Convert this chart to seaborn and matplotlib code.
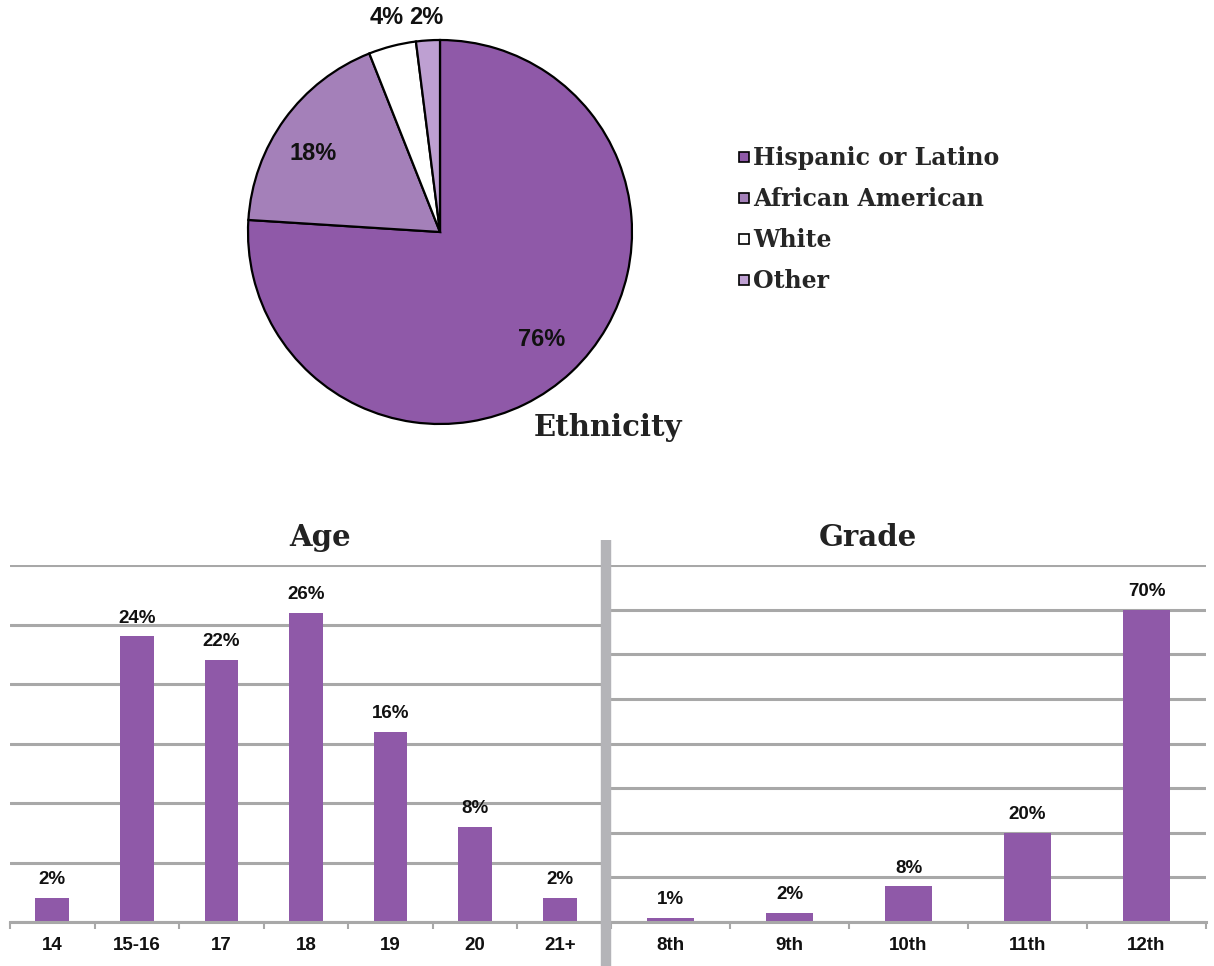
import matplotlib
matplotlib.use("Agg")
import matplotlib.pyplot as plt
import seaborn as sns
import numpy as np
import pandas as pd
from matplotlib.lines import Line2D

# ---- data ----
eth_labels = ["Hispanic or Latino", "African American", "White", "Other"]
eth_values = [76, 18, 4, 2]
eth_colors = ["#8F59A8", "#A480B9", "#FFFFFF", "#BEA0D2"]

age_cats = ["14", "15-16", "17", "18", "19", "20", "21+"]
age_vals = [2, 24, 22, 26, 16, 8, 2]

grade_cats = ["8th", "9th", "10th", "11th", "12th"]
grade_vals = [1, 2, 8, 20, 70]

BAR_COLOR = "#8F59A8"
GRID_COLOR = "#A8A8A8"
SLAB = "DejaVu Serif"
SANS = "Liberation Sans"

sns.set_theme(style="white")
plt.rcParams["font.family"] = ["DejaVu Sans"]

W, H = 1214, 966
fig = plt.figure(figsize=(W / 100, H / 100), dpi=100)
fig.patch.set_facecolor("white")

def fx(px):
    return px / W

def fy(py):
    return 1 - py / H

# ---- pie ----
cx, cy, r = 440, 232, 192
lim = 1.2
size = 2 * lim * r
axp = fig.add_axes([fx(cx - size / 2), fy(cy + size / 2), size / W, size / H])
wedges, texts, autotexts = axp.pie(
    eth_values, colors=eth_colors, startangle=90, counterclock=False,
    autopct=lambda p: f"{p:.0f}%", pctdistance=0.77,
    wedgeprops=dict(edgecolor="black", linewidth=1.6),
    textprops=dict(fontsize=17, fontweight="bold", family=SANS, color="#111111"),
)
axp.set_xlim(-lim, lim)
axp.set_ylim(-lim, lim)
axp.set_aspect("equal")
axp.axis("off")
for w, t, v in zip(wedges, autotexts, eth_values):
    ang = np.deg2rad((w.theta1 + w.theta2) / 2)
    if v < 10:
        t.set_position((1.12 * np.cos(ang), 1.118))
    elif v < 50:
        t.set_position((0.82 * np.cos(ang), 0.70 * np.sin(ang)))
for t in autotexts:
    t.set_clip_on(False)

# legend
handles = [Line2D([0], [0], marker="s", linestyle="none", markersize=7,
                  markerfacecolor=c, markeredgecolor="black", markeredgewidth=1.2)
           for c in eth_colors]
leg = fig.legend(handles, eth_labels, loc="upper left",
                 bbox_to_anchor=(fx(738), fy(146)), frameon=False,
                 prop=dict(family=SLAB, weight="bold", size=17),
                 handlelength=0.55, handletextpad=0.1, labelspacing=0.72,
                 borderaxespad=0, borderpad=0)

fig.text(fx(608), fy(428), "Ethnicity", ha="center", va="center",
         family=SLAB, fontweight="bold", fontsize=21, color="#222222")

# ---- bar charts ----
def bar_panel(left, right, cats, vals, ymax, step, title, title_x):
    ax = fig.add_axes([fx(left), fy(922), (right - left) / W, (922 - 565) / H])
    df = pd.DataFrame({"cat": cats, "val": vals})
    sns.barplot(data=df, x="cat", y="val", color=BAR_COLOR, saturation=1,
                width=0.4, ax=ax, edgecolor="none")
    ax.set_ylim(0, ymax)
    ax.set_xlim(-0.5, len(cats) - 0.5)
    ax.set_yticks(np.arange(0, ymax + step, step))
    ax.yaxis.grid(True, color=GRID_COLOR, linewidth=2.2)
    ax.set_axisbelow(True)
    ax.tick_params(axis="y", left=False, labelleft=False)
    for s in ["top", "right", "left"]:
        ax.spines[s].set_visible(False)
    ax.spines["bottom"].set_color(GRID_COLOR)
    ax.spines["bottom"].set_linewidth(2.2)
    ax.set_xticks(np.arange(-0.5, len(cats) + 0.5, 1), minor=True)
    ax.tick_params(axis="x", which="minor", bottom=True, length=5, width=1.5,
                   color=GRID_COLOR, direction="out")
    ax.tick_params(axis="x", which="major", bottom=False, pad=5)
    ax.set_xlabel("")
    ax.set_ylabel("")
    for lab in ax.get_xticklabels():
        lab.set_family(SANS)
        lab.set_fontweight("bold")
        lab.set_fontsize(13.5)
        lab.set_color("#111111")
    for c in ax.containers:
        ax.bar_label(c, labels=[f"{v}%" for v in vals], padding=7,
                     fontsize=13.5, fontweight="bold", family=SANS, color="#111111")
    fig.text(fx(title_x), fy(537), title, ha="center", va="center",
             family=SLAB, fontweight="bold", fontsize=21, color="#222222")
    return ax

bar_panel(10, 602, age_cats, age_vals, 30, 5, "Age", 320)
bar_panel(611, 1206, grade_cats, grade_vals, 80, 10, "Grade", 868)

# separator
fig.add_artist(Line2D([fx(606), fx(606)], [fy(540), fy(966)], color="#B4B4B8",
                      linewidth=7.5, solid_capstyle="butt",
                      transform=fig.transFigure))

fig.savefig("out.png", dpi=100, facecolor="white")
